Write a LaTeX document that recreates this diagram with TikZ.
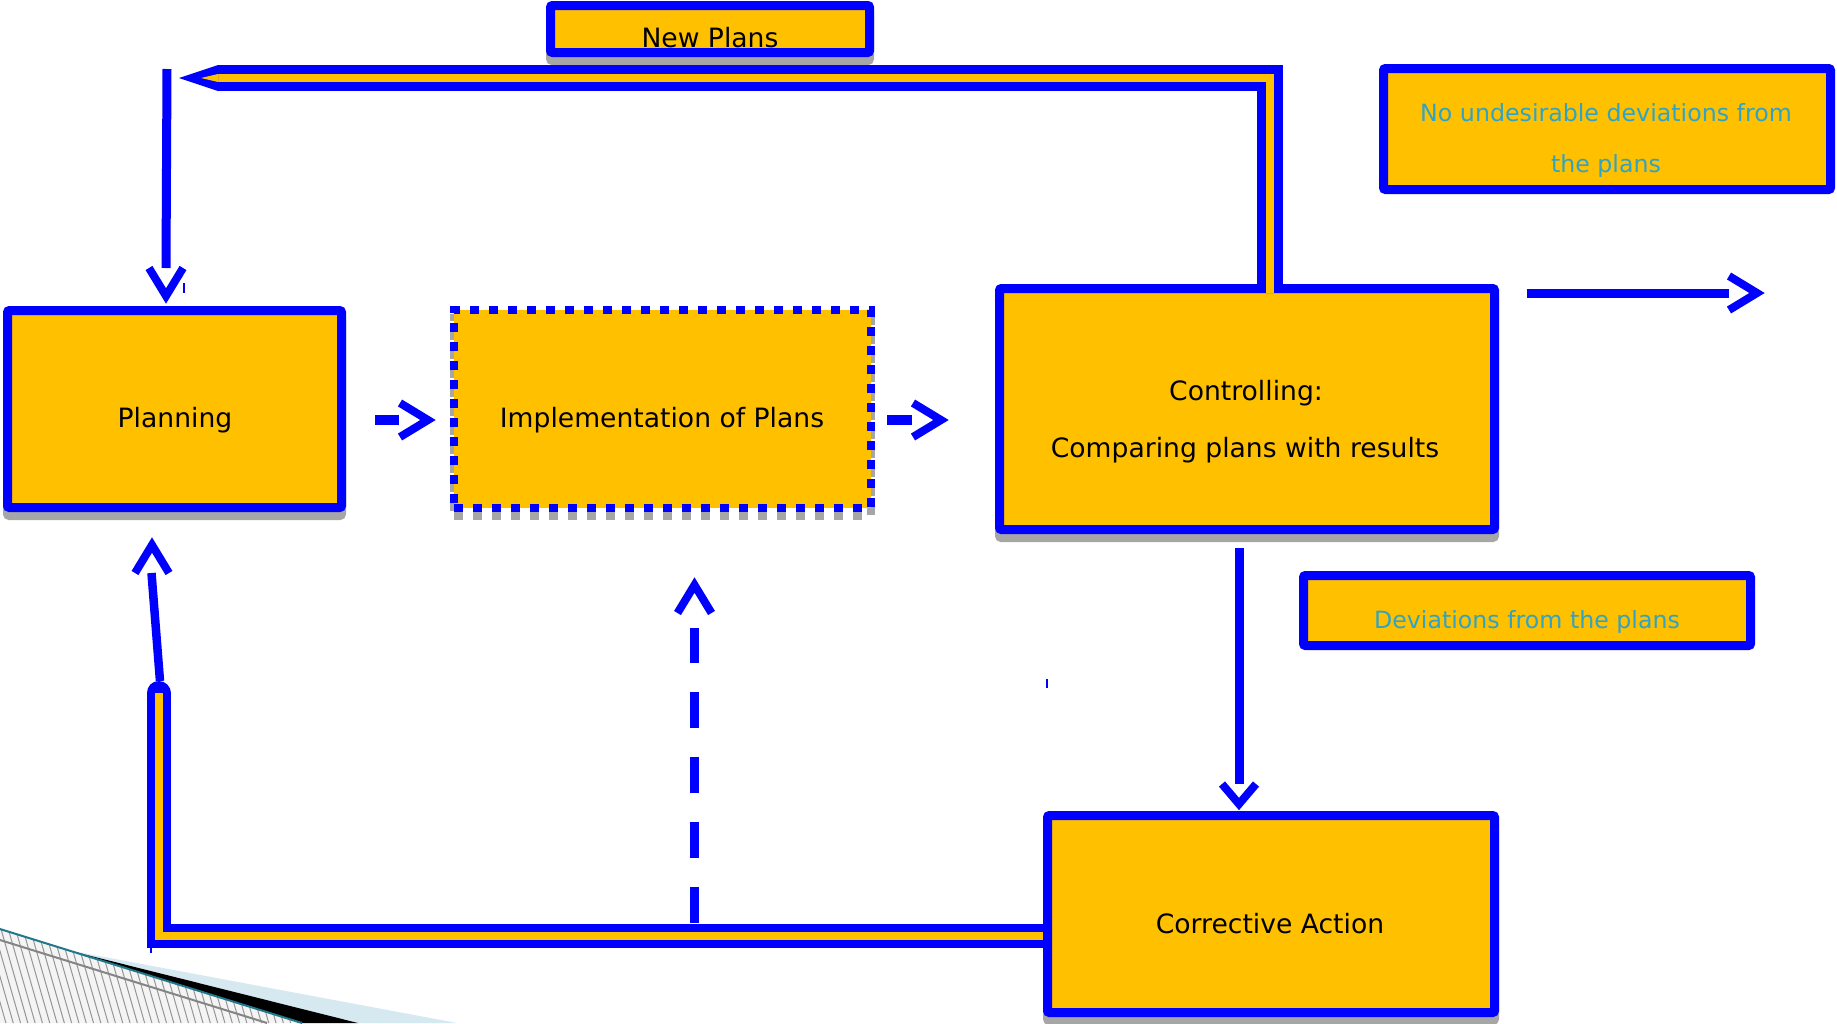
\documentclass[tikz,border=0pt]{standalone}
\usepackage{fontspec}
\setmainfont{DejaVu Sans}
\usetikzlibrary{calc,fit}
\definecolor{boxblue}{RGB}{0,0,255}
\definecolor{boxorange}{RGB}{255,192,0}
\definecolor{shade}{RGB}{166,166,166}
\definecolor{noteteal}{RGB}{49,163,196}
\definecolor{hatchbg}{RGB}{244,244,244}
\definecolor{hatchline}{RGB}{150,150,150}
\definecolor{edgeteal}{RGB}{32,120,138}
\definecolor{paleblue}{RGB}{214,233,240}

\begin{document}
\begin{tikzpicture}[x=0.5pt,y=-0.5pt,
  box/.style={draw=boxblue, fill=boxorange, line width=4.5pt, rounded corners=1pt, inner sep=0pt},
  shadowed/.style={preaction={draw=shade, fill=shade, line width=4.5pt, transform canvas={yshift=-4pt}}},
  dotbox/.style={draw=boxblue, fill=boxorange, line width=4pt, dash pattern=on 4.5pt off 5pt, inner sep=0pt,
    preaction={draw=shade, line width=4pt, dash pattern=on 4.5pt off 5pt, transform canvas={yshift=-4pt}}},
  txt/.style={font=\fontsize{13.3pt}{16pt}\selectfont, text=black, anchor=base, inner sep=0pt},
  notetxt/.style={font=\fontsize{11.85pt}{14pt}\selectfont, text=noteteal, anchor=base, inner sep=0pt},
  shaft/.style={draw=boxblue, line width=4.5pt},
  stub/.style={draw=boxblue, line width=5pt},
  pics/vhead/.style={code={\draw[boxblue, line width=4pt, miter limit=10] (-#1,-17) -- (0,0) -- (-#1,17);}},
  dbl/.style={draw=boxblue, line width=#1, line join=miter, postaction={draw=boxorange, line width=4pt, line cap=butt}},
]
\useasboundingbox (0,0) rectangle (1837,1023);

% corner ornament, lower left
\begin{scope}
  \clip (0,929) -- (302,1023) -- (0,1023) -- cycle;
  \fill[hatchbg] (0,900) rectangle (320,1030);
  \foreach \i in {-30,...,50} \draw[hatchline, line width=0.5pt] (\i*7.3,900) -- ++(40,140);
\end{scope}
\draw[shade!80!black, line width=1pt] (0,940) -- (267,1023);
\fill[paleblue] (67,950) -- (457,1023) -- (358,1023) -- cycle;
\fill[black] (67,950) -- (358,1023) -- (302,1023) -- cycle;
\draw[edgeteal, line width=1pt] (0,929) -- (302,1023);

% return path from corrective action back to planning (behind the boxes)
\coordinate (corrOut) at (1050,935.5);
\coordinate (loopTop) at (158.5,693);
\draw[dbl=12pt, line cap=round] (corrOut) -| (loopTop);

% boxes
\node[box, shadowed, fit={(550.5,5.5)(869.5,52.5)}] (newp) {};
\node[box, shadowed, fit={(7.5,310.5)(341.5,507.5)}] (plan) {};
\node[dotbox, fit={(454,310)(871,508)}] (impl) {};
\node[box, shadowed, fit={(999.5,288.5)(1494.5,529.5)}] (ctrl) {};
\node[box, shadowed, fit={(1047.5,815.5)(1494.5,1012.5)}] (corr) {};
\node[box, fit={(1303.5,575.5)(1750.5,645.5)}] (dev) {};
\node[box, fit={(1383.5,68.5)(1830.5,189.5)}] (nodev) {};

% labels
\node[txt] (tNew) at (710,47) {New Plans};
\node[txt] (tPlan) at (175,427) {Planning};
\node[txt] (tImpl) at (662,427) {Implementation of Plans};
\node[txt] (tCtrlA) at (1246,400) {Controlling:};
\node[txt] (tCtrlB) at (1245,457) {Comparing plans with results};
\node[txt] (tCorr) at (1270,933) {Corrective Action};
\node[notetxt] (tDev) at (1527,628) {Deviations from the plans};
\node[notetxt] (tNoA) at (1606,121) {No undesirable deviations from};
\node[notetxt] (tNoB) at (1606,172) {the plans};

% new plans: from controlling back to the top
\coordinate (ctrlTop) at (1269.5,293);
\coordinate (npEnd) at (218,78);
\coordinate (npTip) at (179,78);
\draw[dbl=13pt] (ctrlTop) |- (npEnd);
\fill[boxblue] (npTip) -- ++(39,-13) -- ++(0,26) -- cycle;
\fill[boxorange] ($(npTip)+(22,0)$) -- ++(17,-4) -- ++(0,8) -- cycle;

% drop into planning
\coordinate (dropTop) at (167,69);
\coordinate (dropEnd) at (166,268);
\coordinate (dropTip) at (166,296);
\draw[shaft] (dropTop) -- (dropEnd);
\pic[rotate=-90] at (dropTip) {vhead=28};

% planning -> implementation
\coordinate (s1a) at (375,420);
\coordinate (s1b) at (399,420);
\coordinate (s1tip) at (428,420);
\draw[stub] (s1a) -- (s1b);
\pic at (s1tip) {vhead=28};

% implementation -> controlling
\coordinate (s2a) at (887,420);
\coordinate (s2b) at (912,420);
\coordinate (s2tip) at (941,420);
\draw[stub] (s2a) -- (s2b);
\pic at (s2tip) {vhead=28};

% controlling -> no undesirable deviations
\coordinate (okStart) at (1527,293);
\coordinate (okEnd) at (1729,293);
\coordinate (okTip) at (1757,293);
\draw[shaft] (okStart) -- (okEnd);
\pic at (okTip) {vhead=28};

% controlling -> corrective action
\coordinate (devStart) at (1239,548);
\coordinate (devEnd) at (1239,784);
\coordinate (devTip) at (1239,804);
\draw[shaft] (devStart) -- (devEnd);
\pic[rotate=-90] at (devTip) {vhead=20};

% return loop rises into planning
\coordinate (upStart) at (160,681);
\coordinate (upEnd) at (151.5,573);
\coordinate (upTip) at (152,545);
\draw[shaft, line width=4.25pt] (upStart) -- (upEnd);
\pic[rotate=90] at (upTip) {vhead=28};

% dashed feedback into implementation
\coordinate (dashStart) at (694.5,923);
\coordinate (dashEnd) at (694.5,628);
\coordinate (dashTip) at (694.5,585);
\draw[boxblue, line width=4.25pt, dash pattern=on 18pt off 14.5pt] (dashStart) -- (dashEnd);
\pic[rotate=90] at (dashTip) {vhead=28};

% small stray marks
\draw[boxblue, line width=0.8pt] (184,283) -- (184,293);
\draw[boxblue, line width=0.8pt] (1047,679) -- (1047,688);
\draw[boxblue, line width=0.8pt] (151,947) -- (151,953);
\end{tikzpicture}
\end{document}
